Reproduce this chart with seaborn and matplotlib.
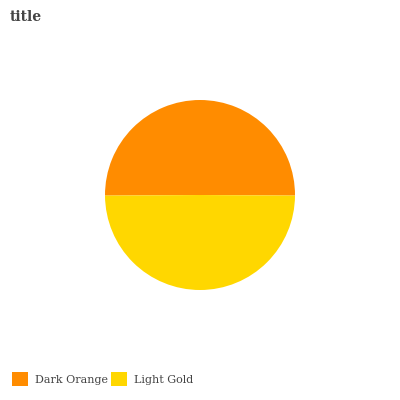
import matplotlib
matplotlib.use("Agg")
import matplotlib.pyplot as plt
import seaborn as sns
from matplotlib.patches import Patch

# data
labels = ["Dark Orange", "Light Gold"]
values = [50.2, 49.8]
colors = ["#FF8C00", "#FFD700"]

sns.set_theme(style="white")
plt.rcParams["font.family"] = ["DejaVu Serif"]

fig = plt.figure(figsize=(4, 4), dpi=100)
ax = fig.add_axes([105 / 400, 110 / 400, 190 / 400, 190 / 400])

ax.pie(values, colors=colors, startangle=-0.35, counterclock=True,
       wedgeprops=dict(linewidth=0))
ax.set_xlim(-1, 1)
ax.set_ylim(-1, 1)
ax.set_aspect("equal")
ax.axis("off")

fig.text(10 / 400, 1 - 17 / 400, "title", fontsize=10, fontweight="bold",
         color="#444444", va="center", ha="left")

handles = [Patch(facecolor=c, edgecolor="none") for c in colors]
fig.legend(handles, labels, loc="center left", bbox_to_anchor=(5 / 400, 1 - 379 / 400),
           ncol=2, frameon=False, fontsize=8, handlelength=1.5, handleheight=1.5,
           handletextpad=0.6, columnspacing=0.25, labelcolor="#444444",
           borderaxespad=0.0, borderpad=0.6)

fig.savefig("out.png", dpi=100)
